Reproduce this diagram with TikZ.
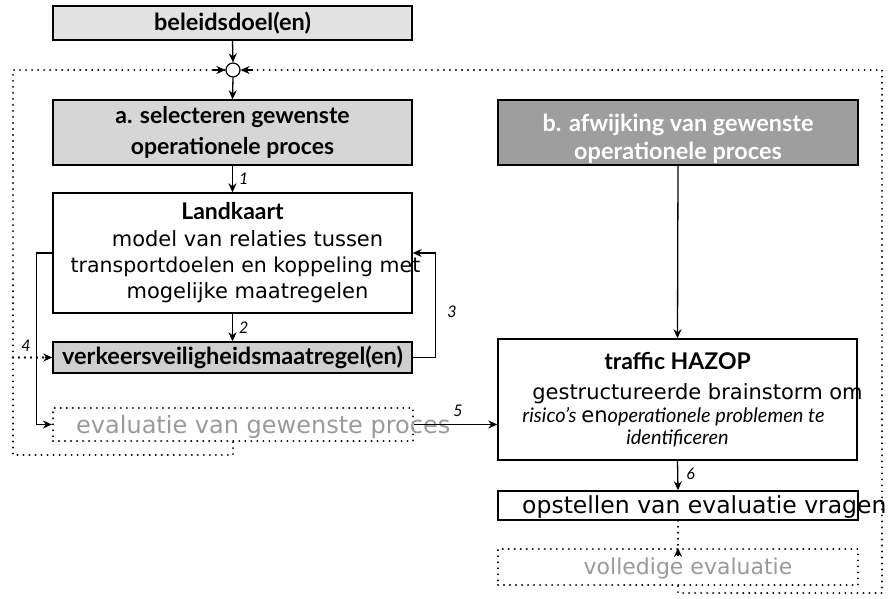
\documentclass[tikz,border=0pt]{standalone}
\usepackage{fontspec}
\setmainfont{Lato}
\newfontfamily\bodyfont{DejaVu Sans}
\usetikzlibrary{arrows.meta}
\definecolor{fillA}{HTML}{E2E2E2}
\definecolor{fillB}{HTML}{D6D6D6}
\definecolor{fillC}{HTML}{CFCFCF}
\definecolor{fillD}{HTML}{9E9E9E}
\definecolor{ghost}{HTML}{9A9A9A}
\newcommand{\bodytxt}{\bodyfont\mdseries\fontsize{21}{26}\selectfont}
\newcommand{\itltxt}{\normalfont\itshape\fontsize{20}{22}\selectfont}
\newcommand{\ctrline}[2]{\makebox[0pt]{\hspace*{#1}#2}}
\tikzset{
  box/.style={draw=black, line width=1.4pt, minimum width=359pt, inner sep=0pt, align=center},
  dotbox/.style={draw=black, line width=2.2pt, dash pattern=on 0.01pt off 6pt, line cap=round, minimum width=360pt, inner sep=0pt},
  conn/.style={line width=1.3pt, -{Stealth[length=9pt,width=8pt]}},
  dotconn/.style={line width=2.2pt, dash pattern=on 0.01pt off 6pt, line cap=round},
  tipstyle/.style={-{Stealth[length=9pt,width=8pt]}},
  num/.style={font=\itshape\fontsize{16}{16}\selectfont, inner sep=0pt},
}
\begin{document}
\begin{tikzpicture}[x=1pt,y=-1pt]
\useasboundingbox (0,0) rectangle (892,598);
% boxes
\node[box, fill=fillA, minimum height=34pt, font=\bfseries\fontsize{23.5}{24}\selectfont] (beleid) at (232.5,23) {beleidsdoel(en)};
\node[draw=black, line width=1.2pt, circle, minimum size=14pt, inner sep=0pt, fill=white] (circ) at (233,70) {};
\node[box, fill=fillB, minimum height=65pt, font=\bfseries\fontsize{23}{31}\selectfont] (boxa) at (232.5,132.5) {a. selecteren gewenste\\operationele proces};
\node[box, minimum height=120pt, font=\bfseries\fontsize{23}{26}\selectfont] (land) at (232.5,253) {Landkaart\\[1pt]
  {\bodytxt\ctrline{30pt}{model van relaties tussen}}\\
  {\bodytxt\ctrline{26pt}{\fontsize{20.5}{26}\selectfont transportdoelen en koppeling met}}\\
  {\bodytxt\ctrline{30pt}{mogelijke maatregelen}}};
\node[box, fill=fillC, minimum height=31pt, font=\bfseries\fontsize{23.5}{26}\selectfont] (verk) at (232.5,357.5) {verkeersveiligheidsmaatregel(en)};
\node[dotbox, minimum height=33pt] (evalb) at (233,424.5) {};
\node[anchor=west, text=ghost, inner sep=0pt, font=\bodyfont\fontsize{24}{26}\selectfont] (evalt) at (76,427) {evaluatie van gewenste proces};
\node[box, minimum width=360pt, fill=fillD, minimum height=65pt, text=white, font=\bfseries\fontsize{23.5}{28}\selectfont] (boxb) at (678,132.5) {\rule{0pt}{30pt}b. afwijking van gewenste\\operationele proces};
\node[box, minimum height=121pt, font=\bfseries\fontsize{23}{26}\selectfont] (hazop) at (677.5,399.5) {traffic HAZOP\\[4pt]
  {\bodytxt\ctrline{40pt}{gestructureerde brainstorm om}}\\[-3pt]
  {\itltxt\ctrline{-8pt}{risico's {\upshape\bodytxt en}operationele problemen te}}\\[-4pt]
  {\itltxt identificeren}};
\node[box, minimum width=360pt, minimum height=29pt] (opst) at (678,505.5) {};
\node[anchor=west, inner sep=0pt, font=\bodyfont\fontsize{23.5}{26}\selectfont] (opstt) at (522,507) {opstellen van evaluatie vragen};
\node[dotbox, minimum height=36pt] (voll) at (678,567) {};
\node[text=ghost, inner sep=0pt, font=\bodyfont\fontsize{22}{24}\selectfont] (vollt) at (688,568) {volledige evaluatie};
% connectors
\draw[conn] (beleid.south) -- (circ.north);
\draw[conn] (circ.south) -- (boxa.north);
\draw[conn] (boxa.south) -- (land.north) node[num, pos=0.5, right=6pt] {1};
\draw[conn] (land.south) -- (verk.north) node[num, pos=0.5, right=6pt] {2};
\draw[conn] (verk.east) -- ++(23,0) |- (land.east);
\node[num] (n3) at (452,312) {3};
\draw[conn] (land.west) -- ++(-16,0) |- (evalb.west);
\draw[conn] (evalb.east) -- (hazop.west |- evalb.east);
\node[num] (n5) at (458,411) {5};
\draw[conn] (boxb.south) -- (hazop.north);
\draw[conn] (hazop.south) -- (opst.north) node[num, pos=0.45, right=8pt] {6};
% dotted feedback loops
\coordinate (lcorner) at (13,455);
\coordinate (rcorner) at (882,593);
\draw[dotconn] (evalb.south) |- (lcorner) |- (circ.west);
\draw[line width=1.2pt, tipstyle] ([xshift=-12pt]circ.west) -- (circ.west);
\draw[dotconn] (voll.south) |- (rcorner) |- (circ.east);
\draw[line width=1.2pt, tipstyle] ([xshift=12pt]circ.east) -- (circ.east);
\draw[dotconn] (lcorner |- verk.west) -- ([xshift=-6pt]verk.west);
\draw[line width=1.2pt, tipstyle] ([xshift=-7pt]verk.west) -- (verk.west);
\node[num] (n4) at (26,346) {4};
\draw[dotconn] (opst.south) -- ([yshift=-6pt]voll.north);
\draw[line width=1.2pt, tipstyle] ([yshift=-8pt]voll.north) -- (voll.north);
\end{tikzpicture}
\end{document}
